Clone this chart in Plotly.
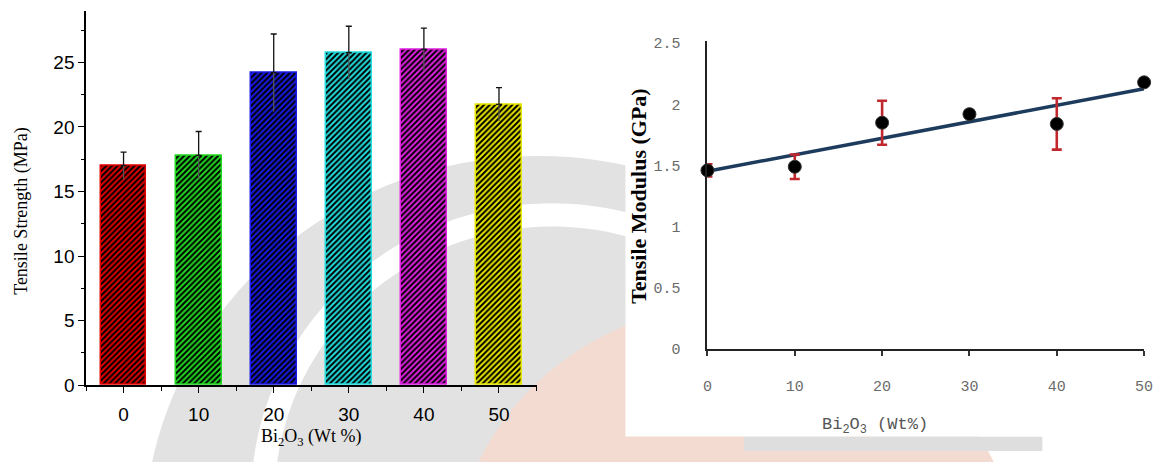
import numpy as np
import plotly.graph_objects as go

W, H = 1163, 462

# ---- data -------------------------------------------------------------
loading = [0, 10, 20, 30, 40, 50]                      # Bi2O3 content, wt %

# tensile strength (MPa), bar chart
strength = [17.0, 17.8, 24.2, 25.75, 26.0, 21.75]
strength_err = [1.05, 1.85, 3.0, 2.05, 1.65, 1.3]
bar_colors = ["#e00000", "#22d822", "#1a1ae6", "#22dddd", "#e020e0", "#e6e600"]

# tensile modulus (GPa), scatter with linear fit
modulus = [1.46, 1.49, 1.85, 1.92, 1.84, 2.18]
modulus_err = [0.05, 0.10, 0.18, 0.03, 0.21, 0.03]

strength_ticks = [0, 5, 10, 15, 20, 25]
modulus_ticks = [0, 0.5, 1, 1.5, 2, 2.5]
modulus_tick_text = ["0", "0.5", "1", "1.5", "2", "2.5"]


def px(x):
    return x / W


def py(y):
    return 1 - y / H


fig = go.Figure()

# ---- left panel: hatched bars (one trace per bar so each keeps its own
# hatch background colour) ---------------------------------------------
for xv, yv, col in zip(loading, strength, bar_colors):
    fig.add_trace(go.Bar(
        x=[xv], y=[yv], width=6.1,
        marker=dict(
            color=col,
            line=dict(color=col, width=1.5),
            pattern=dict(shape="/", fgcolor="#000000", bgcolor=col,
                         fgopacity=1, size=4, solidity=0.5,
                         fillmode="replace"),
        ),
        xaxis="x", yaxis="y", showlegend=False,
    ))

# upper whisker with cap
fig.add_trace(go.Scatter(
    x=loading, y=strength, mode="markers",
    marker=dict(size=1, opacity=0),
    error_y=dict(type="data", symmetric=False, array=strength_err,
                 arrayminus=[0] * len(strength_err),
                 color="#111111", thickness=1.3, width=3),
    xaxis="x", yaxis="y", showlegend=False, hoverinfo="skip",
))
# lower whisker, no cap
fig.add_trace(go.Scatter(
    x=loading, y=strength, mode="markers",
    marker=dict(size=1, opacity=0),
    error_y=dict(type="data", symmetric=False, array=[0] * len(strength_err),
                 arrayminus=strength_err,
                 color="#555555", thickness=1.3, width=0),
    xaxis="x", yaxis="y", showlegend=False, hoverinfo="skip",
))

# ---- right panel: modulus points and fit --------------------------------
coef = np.polyfit(loading, modulus, 1)
fit_x = [loading[0], loading[-1]]
fit_y = list(np.polyval(coef, fit_x))

fig.add_trace(go.Scatter(
    x=fit_x, y=fit_y, mode="lines",
    line=dict(color="#1d3b5c", width=3.5),
    xaxis="x2", yaxis="y2", showlegend=False,
))
fig.add_trace(go.Scatter(
    x=loading, y=modulus, mode="markers",
    marker=dict(size=13, color="#000000", line=dict(color="#333333", width=1)),
    error_y=dict(type="data", array=modulus_err, color="#c0282d",
                 thickness=2.6, width=5),
    cliponaxis=False,
    xaxis="x2", yaxis="y2", showlegend=False,
))


# ---- background logo and panel backing --------------------------------
def to_path(pts):
    return "M " + " L ".join(f"{px(x):.5f},{py(y):.5f}" for x, y in pts) + " Z"


def disk_path(cx, cy, r, n=160):
    ts = np.linspace(0, 2 * np.pi, n, endpoint=False)
    return to_path([(cx + r * np.cos(t), cy - r * np.sin(t)) for t in ts])


def band_path(cx, cy, r_in, r_out, t0, t1, n=90):
    ts = np.radians(np.linspace(t0, t1, n))
    outer = [(cx + r_out * np.cos(t), cy - r_out * np.sin(t)) for t in ts]
    inner = [(cx + r_in * np.cos(t), cy - r_in * np.sin(t)) for t in ts[::-1]]
    return to_path(outer + inner)


shapes = [
    dict(type="path", xref="paper", yref="paper", layer="below",
         path=disk_path(540, 557, 400), fillcolor="#e2e2e2", line=dict(width=0)),
    dict(type="path", xref="paper", yref="paper", layer="below",
         path=disk_path(740, 600, 290), fillcolor="#f3dbd1", line=dict(width=0)),
    dict(type="path", xref="paper", yref="paper", layer="below",
         path=band_path(554, 511, 281, 305, 20, 200),
         fillcolor="#ffffff", line=dict(width=0)),
    dict(type="rect", xref="paper", yref="paper", layer="below",
         x0=px(748), x1=px(1050), y0=py(462), y1=py(447),
         fillcolor="#dedede", line=dict(width=0)),
    dict(type="rect", xref="paper", yref="paper", layer="below",
         x0=px(628), x1=1.0, y0=py(447), y1=1.0,
         fillcolor="#ffffff", line=dict(width=0)),
]

serif = "Liberation Serif, Times New Roman, serif"
sans = "Liberation Sans, Arial, sans-serif"
mono = "Liberation Mono, Courier New, monospace"

annotations = [
    dict(text="Tensile Strength (MPa)", x=px(16), y=py(214), textangle=-90,
         font=dict(family=serif, size=18, color="#000000")),
    dict(text="Bi<sub>2</sub>O<sub>3</sub> (Wt %)", x=px(310), y=py(448),
         font=dict(family=serif, size=18, color="#000000")),
    dict(text="<b>Tensile Modulus (GPa)</b>", x=px(641), y=py(198), textangle=-90,
         font=dict(family=serif, size=22, color="#000000")),
    dict(text="Bi<sub>2</sub>O<sub>3</sub> (Wt%)", x=px(881), y=py(436),
         font=dict(family=mono, size=17, color="#555555")),
]
for a in annotations:
    a.update(xref="paper", yref="paper", xanchor="center", yanchor="middle",
             showarrow=False)

fig.update_layout(
    width=W, height=H,
    margin=dict(l=0, r=0, t=0, b=0),
    paper_bgcolor="#ffffff",
    plot_bgcolor="rgba(0,0,0,0)",
    bargap=0,
    barmode="overlay",
    shapes=shapes,
    annotations=annotations,
    xaxis=dict(
        domain=[px(82), px(538)], range=[-5, 55], anchor="y",
        tickvals=loading, ticks="outside", ticklen=6, tickwidth=1.3,
        tickcolor="#000000", ticklabelstandoff=5,
        minor=dict(tick0=5, dtick=10, ticks="outside", ticklen=4,
                   tickwidth=1.3, tickcolor="#000000"),
        showline=True, linecolor="#000000", linewidth=1.5,
        showgrid=False, zeroline=False,
        tickfont=dict(family=sans, size=19, color="#000000"),
    ),
    yaxis=dict(
        domain=[py(394), py(7)], range=[0, 29], anchor="x",
        tickvals=strength_ticks, ticks="outside", ticklen=6, tickwidth=1.3,
        tickcolor="#000000",
        minor=dict(tick0=0, dtick=2.5, ticks="outside", ticklen=3,
                   tickwidth=1.3, tickcolor="#000000"),
        showline=True, linecolor="#000000", linewidth=1.5,
        showgrid=False, zeroline=False,
        tickfont=dict(family=sans, size=19, color="#000000"),
    ),
    xaxis2=dict(
        domain=[px(711), px(1153)], range=[0, 50], anchor="y2",
        tickvals=loading, ticks="outside", ticklen=5, tickwidth=2,
        tickcolor="#333333", ticklabelstandoff=17,
        showline=True, linecolor="#222222", linewidth=2,
        showgrid=False, zeroline=False,
        tickfont=dict(family=mono, size=15, color="#6b6b6b"),
    ),
    yaxis2=dict(
        domain=[py(356.5), py(38)], range=[0, 2.52], anchor="x2",
        tickvals=modulus_ticks, ticktext=modulus_tick_text, ticks="",
        ticklabelstandoff=22,
        showline=True, linecolor="#222222", linewidth=2,
        showgrid=False, zeroline=False,
        tickfont=dict(family=mono, size=15, color="#6b6b6b"),
    ),
)

fig.write_html("out.html")
